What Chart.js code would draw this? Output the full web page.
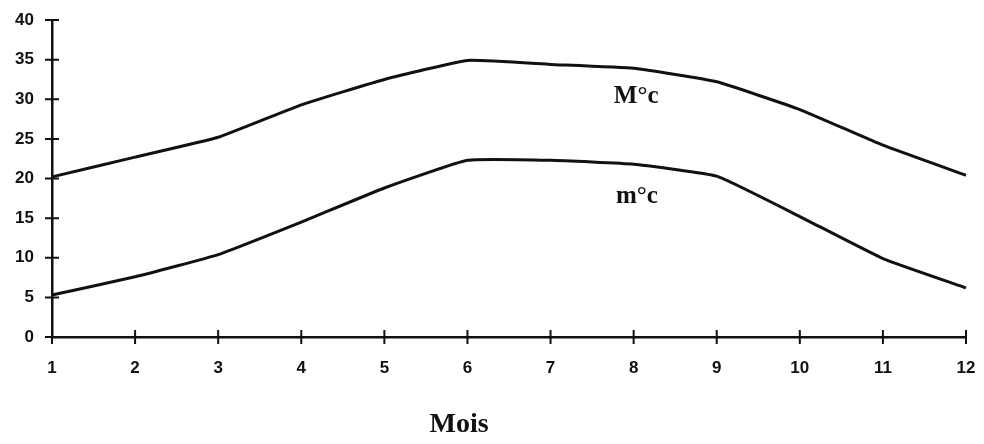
<!DOCTYPE html>
<html>
<head>
<meta charset="utf-8">
<style>
  html, body { margin: 0; padding: 0; background: #fff; }
  #wrap { width: 984px; height: 444px; }
</style>
<script src="https://cdn.jsdelivr.net/npm/chart.js@4/dist/chart.umd.min.js"></script>
</head>
<body>
<div id="wrap"><canvas id="myChart" width="984" height="444"></canvas></div>
<script>
const mois = ['1', '2', '3', '4', '5', '6', '7', '8', '9', '10', '11', '12'];
const tMax = [20.2, 22.7, 25.2, 29.3, 32.5, 34.9, 34.4, 33.9, 32.2, 28.7, 24.2, 20.4];
const tMin = [5.3, 7.6, 10.4, 14.5, 18.8, 22.3, 22.3, 21.8, 20.3, 15.2, 9.9, 6.2];
const yTicks = [0, 5, 10, 15, 20, 25, 30, 35, 40];

// axis ticks cross the axis line, plus the text labels inside the plot
const extras = {
  id: 'extras',
  afterDraw(chart) {
    const c = chart.ctx;
    const xs = chart.scales.x, ys = chart.scales.y;
    c.save();
    c.strokeStyle = '#111';
    c.lineWidth = 2;
    c.beginPath();
    yTicks.forEach(v => {
      const py = ys.getPixelForValue(v);
      c.moveTo(xs.left - 7, py);
      c.lineTo(xs.left + 7, py);
    });
    mois.forEach((m, i) => {
      const px = xs.getPixelForValue(i);
      c.moveTo(px, ys.bottom - 7);
      c.lineTo(px, ys.bottom + 7);
    });
    c.stroke();

    c.fillStyle = '#111';
    c.textAlign = 'center';
    c.textBaseline = 'middle';
    c.font = 'bold 25px "Liberation Serif"';
    c.fillText('M°c', xs.getPixelForValue(7.03), ys.getPixelForValue(30.3));
    c.fillText('m°c', xs.getPixelForValue(7.04), ys.getPixelForValue(17.7));
    c.font = 'bold 28px "Liberation Serif"';
    c.fillText('Mois', xs.getPixelForValue(4.9), 425);
    c.restore();
  }
};

const ctx = document.getElementById('myChart');
const myChart = new Chart(ctx, {
  type: 'line',
  data: {
    labels: mois,
    datasets: [{
      label: 'M°c',
      data: tMax,
      borderColor: '#111',
      borderWidth: 3,
      pointRadius: 0,
      tension: 0.12,
      fill: false
    }, {
      label: 'm°c',
      data: tMin,
      borderColor: '#111',
      borderWidth: 3,
      pointRadius: 0,
      tension: 0.12,
      fill: false
    }]
  },
  options: {
    responsive: false,
    animation: false,
    layout: { padding: { top: 20, right: 18, left: 0, bottom: 0 } },
    plugins: {
      legend: { display: false },
      tooltip: { enabled: false }
    },
    scales: {
      x: {
        offset: false,
        grid: { display: false, drawTicks: false },
        border: { display: true, color: '#111', width: 2.5 },
        ticks: {
          color: '#111',
          padding: 21,
          maxRotation: 0,
          font: { family: 'Liberation Sans', weight: 'bold', size: 17 }
        },
        afterFit(scale) {
          scale.height = 107;
          scale.paddingLeft = 0;
          scale.paddingRight = 0;
        }
      },
      y: {
        min: 0,
        max: 40,
        grid: { display: false, drawTicks: false },
        border: { display: true, color: '#111', width: 2.5 },
        ticks: {
          stepSize: 5,
          color: '#111',
          padding: 18,
          font: { family: 'Liberation Sans', weight: 'bold', size: 17 }
        },
        afterFit(scale) {
          scale.width = 52;
          scale.paddingTop = 0;
          scale.paddingBottom = 0;
        }
      }
    }
  },
  plugins: [extras]
});
</script>
</body>
</html>
